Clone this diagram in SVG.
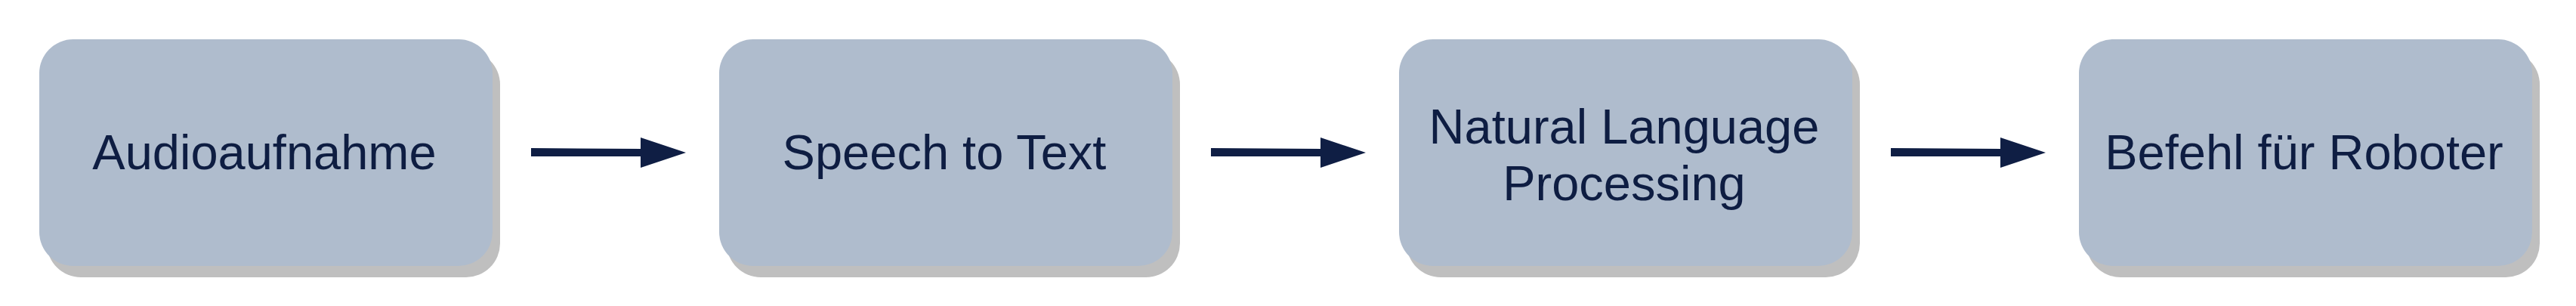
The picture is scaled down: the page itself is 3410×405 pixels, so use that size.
<svg xmlns="http://www.w3.org/2000/svg" width="3410" height="405" viewBox="0 0 3410 405">
<style>
.shadow{fill:#BFBFBF}
.box{fill:#AFBCCD}
.lbl{font-family:"Liberation Sans",Arial,sans-serif;font-size:65px;fill:#0E1D42;text-anchor:middle}
.arrow{fill:#0F1E44}
</style>
<rect width="3410" height="405" fill="#FFFFFF"/>
<g id="node-audioaufnahme">
<rect class="shadow" x="62" y="67" width="600" height="300" rx="45" ry="45"/>
<rect class="box" x="52" y="52" width="600" height="300" rx="45" ry="45"/>
<text class="lbl" x="350" y="224">Audioaufnahme</text>
</g>
<g id="node-speech-to-text">
<rect class="shadow" x="962" y="67" width="600" height="300" rx="45" ry="45"/>
<rect class="box" x="952" y="52" width="600" height="300" rx="45" ry="45"/>
<text class="lbl" x="1250" y="224">Speech to Text</text>
</g>
<g id="node-nlp">
<rect class="shadow" x="1862" y="67" width="600" height="300" rx="45" ry="45"/>
<rect class="box" x="1852" y="52" width="600" height="300" rx="45" ry="45"/>
<text class="lbl" x="2150" y="190">Natural Language</text>
<text class="lbl" x="2150" y="265">Processing</text>
</g>
<g id="node-befehl">
<rect class="shadow" x="2762" y="67" width="600" height="300" rx="45" ry="45"/>
<rect class="box" x="2752" y="52" width="600" height="300" rx="45" ry="45"/>
<text class="lbl" x="3050" y="224">Befehl für Roboter</text>
</g>
<g id="connectors">
<path class="arrow" d="M703,196 L848,197 L848,182 L908,202 L848,222 L848,207 L703,207 Z"/>
<path class="arrow" d="M1603,196 L1748,197 L1748,182 L1808,202 L1748,222 L1748,207 L1603,207 Z"/>
<path class="arrow" d="M2503,196 L2648,197 L2648,182 L2708,202 L2648,222 L2648,207 L2503,207 Z"/>
</g>
</svg>
